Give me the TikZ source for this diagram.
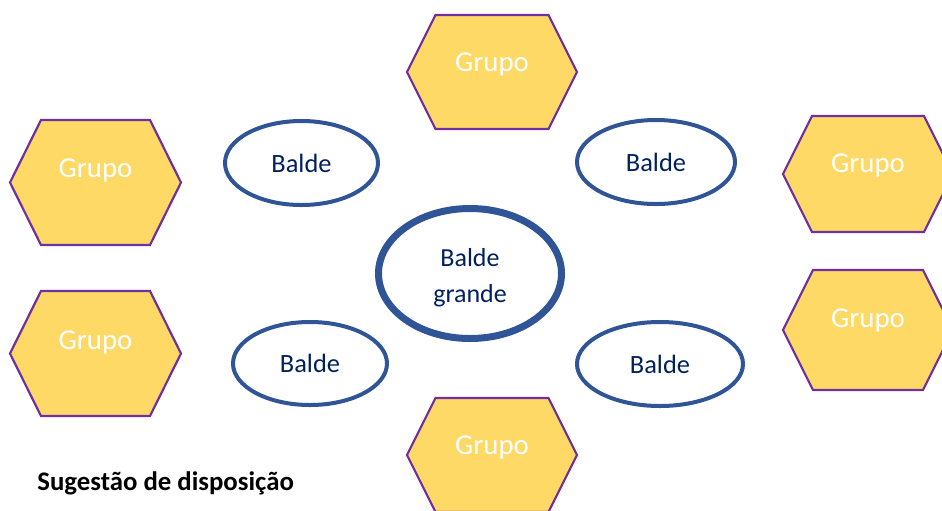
\documentclass[tikz,border=0pt]{standalone}
\usepackage{fontspec}
\setmainfont{Carlito}
\usetikzlibrary{shapes.geometric}
\definecolor{grupofill}{HTML}{FFD966}
\definecolor{grupoline}{HTML}{7030A0}
\definecolor{baldeline}{HTML}{2F5597}
\definecolor{baldetext}{HTML}{002060}

\begin{document}
\begin{tikzpicture}[x=0.5pt,y=-0.5pt,line join=miter,
  grupohex/.style={fill=grupofill,draw=grupoline,line width=1.1pt},
  grupotext/.style={text=white,inner sep=0pt,font=\fontsize{14.4}{16}\selectfont},
  balde/.style={ellipse,draw=baldeline,line width=2pt,text=baldetext,inner sep=0pt,font=\fontsize{13.2}{15}\selectfont}]
\clip (0,0) rectangle (942,510);
\coordinate (g1) at (95.5,182.5);
\coordinate (g2) at (95.5,353.5);
\coordinate (g3) at (492,72);
\coordinate (g4) at (492,455);
\coordinate (g5) at (868,174);
\coordinate (g6) at (868,330);
\draw[grupohex,shift={(g1)}] (-85.5,0) -- (-54.5,-62.5) -- (54.5,-62.5) -- (85.5,0) -- (54.5,62.5) -- (-54.5,62.5) -- cycle;
\draw[grupohex,shift={(g2)}] (-85.5,0) -- (-54.5,-62.5) -- (54.5,-62.5) -- (85.5,0) -- (54.5,62.5) -- (-54.5,62.5) -- cycle;
\draw[grupohex,shift={(g3)}] (-85,0) -- (-56.5,-57) -- (56.5,-57) -- (85,0) -- (56.5,57) -- (-56.5,57) -- cycle;
\draw[grupohex,shift={(g4)}] (-85,0) -- (-56.5,-57) -- (56.5,-57) -- (85,0) -- (56.5,57) -- (-56.5,57) -- cycle;
\draw[grupohex,shift={(g5)}] (-85,0) -- (-56,-58) -- (56,-58) -- (85,0) -- (56,58) -- (-56,58) -- cycle;
\draw[grupohex,shift={(g6)}] (-85,0) -- (-55,-60) -- (55,-60) -- (85,0) -- (55,60) -- (-55,60) -- cycle;
\node[grupotext] (grupo1) at ([shift={(0,-12)}]g1) {Grupo};
\node[grupotext] (grupo2) at ([shift={(0,-11)}]g2) {Grupo};
\node[grupotext] (grupo3) at ([shift={(0,-8)}]g3) {Grupo};
\node[grupotext] (grupo4) at ([shift={(0,-8)}]g4) {Grupo};
\node[grupotext] (grupo5) at ([shift={(0,-9)}]g5) {Grupo};
\node[grupotext] (grupo6) at ([shift={(0,-10)}]g6) {Grupo};
\node[balde,minimum width=76.5pt,minimum height=42pt] (balde1) at (301.5,163) {Balde};
\node[balde,minimum width=79pt,minimum height=42pt] (balde2) at (656,162) {Balde};
\node[balde,minimum width=77pt,minimum height=41.5pt] (balde3) at (310,363.5) {Balde};
\node[balde,minimum width=83pt,minimum height=42pt] (balde4) at (660,364) {Balde};
\node[balde,line width=3.5pt,minimum width=91.5pt,minimum height=65pt,align=center,
  font=\fontsize{13}{18}\selectfont] (grande) at (470,273.5) {};
\node[text=baldetext,align=center,inner sep=0pt,font=\fontsize{13}{18}\selectfont] (grandetxt) at (470,277.5) {Balde\\grande};
\node[anchor=base west,inner sep=0pt,font=\bfseries\fontsize{13.4}{15}\selectfont] (legenda) at (37,490) {Sugestão de disposição};
\end{tikzpicture}
\end{document}
